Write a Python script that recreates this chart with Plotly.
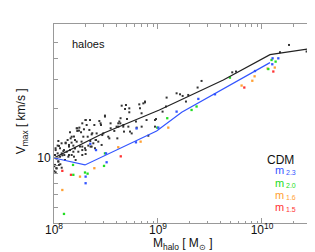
import numpy as np
import plotly.graph_objects as go

# ---- data (log10 units) ----
cdm_logM = [10.26, 10.173, 10.429, 9.75, 9.714, 9.419, 9.381,
            9.083, 9.179, 9.212, 9.237, 9.291, 9.269, 9.044, 8.981, 9.077,
            8.692, 8.724, 8.820, 8.875, 8.724, 8.842, 8.640, 8.628, 8.618, 8.544,
            8.602, 8.666, 8.673, 8.731, 8.532, 8.609, 8.788, 8.890, 8.971, 8.490,
            8.304, 8.448, 8.224, 8.240, 8.288, 8.192, 8.160, 8.368, 8.464, 8.112,
            8.169, 8.073, 8.265, 8.400, 8.048, 8.015, 8.096, 8.144, 8.202, 8.272,
            8.304, 8.352,
            8.005, 8.022, 8.041, 8.003, 8.080, 8.144, 8.192, 8.208, 8.272, 8.304,
            8.022, 8.061, 8.003,
            8.042, 8.035, 8.058, 8.016, 8.090, 8.131, 8.154, 8.170, 8.202, 8.218,
            8.224, 8.244, 8.260, 8.282, 8.304, 8.314, 8.340, 8.349, 8.362, 8.378,
            8.404, 8.436, 8.452, 8.474, 8.490, 8.522, 8.545, 8.580, 8.619, 8.638,
            8.651, 8.667, 8.683, 8.702, 8.715, 8.747, 8.795, 8.827, 8.843, 8.859,
            8.875, 8.907, 8.971,
            8.010, 8.026, 8.042, 8.010, 8.026, 8.016, 8.058, 8.074, 8.099, 8.122,
            8.138, 8.154, 8.170, 8.186, 8.202, 8.048, 8.074, 8.035, 8.106, 8.234,
            8.250, 8.272, 8.298, 8.330, 8.362, 8.394, 8.426, 8.458, 8.410, 8.324,
            8.272, 8.346, 8.388, 8.218, 8.186, 8.144, 8.112]
cdm_logV = [1.685, 1.641, 1.645, 1.524, 1.519, 1.467, 1.427,
            1.366, 1.392, 1.386, 1.376, 1.382, 1.342, 1.281, 1.236, 1.312,
            1.321, 1.301, 1.325, 1.342, 1.277, 1.271, 1.241, 1.221, 1.210, 1.210,
            1.190, 1.190, 1.160, 1.160, 1.119, 1.119, 1.221, 1.230, 1.230, 1.251,
            1.230, 1.210, 1.180, 1.166, 1.174, 1.130, 1.119, 1.150, 1.139, 1.093,
            1.093, 1.089, 1.099, 1.109, 1.073, 1.059, 1.048, 1.069, 1.059, 1.069,
            1.048, 1.069,
            1.018, 0.998, 0.980, 0.950, 1.016, 1.018, 1.008, 0.988, 1.018, 1.024,
            0.938, 0.962, 0.919,
            1.103, 1.075, 1.059, 1.048, 1.042, 1.109, 1.156, 1.129, 1.109, 1.180,
            1.164, 1.184, 1.156, 1.129, 1.230, 1.200, 1.170, 1.103, 1.143, 1.089,
            1.109, 1.224, 1.200, 1.149, 1.257, 1.129, 1.180, 1.164, 1.190, 1.210,
            1.317, 1.200, 1.297, 1.236, 1.190, 1.149, 1.184, 1.301, 1.190, 1.331,
            1.337, 1.135, 1.190,
            1.018, 0.998, 0.978, 0.958, 0.937, 0.913, 1.008, 1.028, 1.018, 1.038,
            1.008, 1.048, 1.018, 1.038, 1.059, 0.958, 0.941, 1.028, 0.988, 1.038,
            1.069, 1.048, 1.059, 1.075, 1.069, 1.059, 1.099, 1.079, 1.149, 1.129,
            1.210, 1.230, 1.200, 1.099, 1.075, 1.079, 1.089]

m23_logM = [8.304, 8.304, 8.506, 8.500, 8.788, 8.794, 9.179, 9.388, 9.548, 9.933,
            10.102, 10.157, 10.099, 9.003, 8.349, 8.404]
m23_logV = [0.887, 0.847, 0.974, 1.028, 1.095, 1.179, 1.281, 1.358, 1.386, 1.527,
            1.604, 1.604, 1.568, 1.184, 1.086, 1.048]
m20_logM = [8.096, 8.186, 8.298, 8.323, 8.490, 8.481, 8.993, 9.089, 9.323, 9.371,
            9.692, 10.092, 10.131, 10.061, 8.183]
m20_logV = [0.661, 0.898, 0.912, 0.905, 1.028, 0.952, 1.184, 1.241, 1.291, 1.312,
            1.487, 1.594, 1.584, 1.539, 0.958]
m16_logM = [8.080, 8.250, 8.388, 8.618, 8.833, 9.099, 9.804, 9.907, 9.929, 10.054, 10.123]
m16_logV = [0.806, 0.887, 0.938, 1.065, 1.099, 1.184, 1.439, 1.468, 1.495, 1.542, 1.548]
m15_logM = [8.080, 8.163, 8.642, 9.830, 10.109]
m15_logV = [0.922, 0.898, 1.010, 1.427, 1.524]

cdm_line_logM = [8.0, 8.474, 9.013, 9.628, 10.077, 10.445]
cdm_line_logV = [1.0, 1.150, 1.291, 1.473, 1.626, 1.661]
m23_line_logM = [8.0, 8.298, 8.987, 9.228, 10.077]
m23_line_logV = [1.0, 0.958, 1.164, 1.277, 1.578]

x_tickvals = [1e8, 1e9, 1e10]
x_ticktext = ["10<sup>8</sup>", "10<sup>9</sup>", "10<sup>10</sup>"]
y_tickvals = [10]
y_ticktext = ["10"]
y_minorvals = [5, 6, 7, 8, 9, 20, 30, 40, 50]

legend_main = ["CDM", "m", "m", "m", "m"]
legend_sub = ["", "2.3", "2.0", "1.6", "1.5"]

# ---- styles ----
C_BLUE = "#3355ff"
C_GREEN = "#22dd22"
C_ORANGE = "#ffa033"
C_RED = "#ff3333"
C_BLACK = "#222222"
FONT = "Liberation Sans, Arial, sans-serif"
TXT = "#111111"

def p(v):
    return [10 ** a for a in v]

fig = go.Figure()
fig.add_trace(go.Scatter(x=p(cdm_logM), y=p(cdm_logV), mode="markers",
                         marker=dict(symbol="square", size=2, color="#333333", line=dict(width=0))))
for lm, lv, c in [(m15_logM, m15_logV, C_RED), (m16_logM, m16_logV, C_ORANGE),
                  (m20_logM, m20_logV, C_GREEN), (m23_logM, m23_logV, C_BLUE)]:
    fig.add_trace(go.Scatter(x=p(lm), y=p(lv), mode="markers",
                             marker=dict(symbol="square", size=2.3, color=c, line=dict(width=0))))
fig.add_trace(go.Scatter(x=p(cdm_line_logM), y=p(cdm_line_logV), mode="lines",
                         line=dict(color=C_BLACK, width=1.2)))
fig.add_trace(go.Scatter(x=p(m23_line_logM), y=p(m23_line_logV), mode="lines",
                         line=dict(color=C_BLUE, width=1.2)))

x_minor = [k * 10 ** d for d in (8, 9, 10) for k in range(2, 10) if k * 10 ** d < 3.1e10]

axis_common = dict(type="log", ticks="inside", mirror="allticks", showline=True,
                   linecolor="#999999", linewidth=1, tickcolor="#999999", ticklen=5,
                   showgrid=False, zeroline=False,
                   tickfont=dict(family=FONT, size=12, color=TXT))

fig.update_xaxes(**axis_common, range=[8.0, 10.481], tickmode="array",
                 tickvals=x_tickvals, ticktext=x_ticktext, ticklabelstandoff=-4,
                 minor=dict(tickmode="array", tickvals=x_minor, ticks="inside", ticklen=2.5,
                            tickcolor="#999999", showgrid=False))
fig.update_yaxes(**axis_common, range=[0.606, 1.812], tickmode="array",
                 tickvals=y_tickvals, ticktext=y_ticktext,
                 minor=dict(tickmode="array", tickvals=y_minorvals, ticks="inside", ticklen=4,
                            tickcolor="#999999", showgrid=False))

ann = [
    dict(text="haloes", x=0.067, y=0.90, xanchor="left", yanchor="middle",
         font=dict(family=FONT, size=11, color=TXT)),
    dict(text="M<sub>halo</sub> [ M<sub>⊙</sub> ]", x=0.5, y=-0.105, xanchor="center",
         yanchor="middle", font=dict(family=FONT, size=12, color=TXT)),
    dict(text="V<sub>max</sub> [ km/s ]", x=-0.125, y=0.51, xanchor="center",
         yanchor="middle", textangle=-90, font=dict(family=FONT, size=12, color=TXT)),
]
legend_colors = [TXT, C_BLUE, C_GREEN, C_ORANGE, C_RED]
legend_y = [0.316, 0.268, 0.202, 0.139, 0.078]
for t, s, c, yy in zip(legend_main, legend_sub, legend_colors, legend_y):
    if s:
        ann.append(dict(text=t, x=0.895, y=yy, xanchor="right", yanchor="middle",
                        font=dict(family=FONT, size=11, color=c)))
        ann.append(dict(text=s, x=0.895, y=yy - 0.012, xanchor="left", yanchor="middle",
                        font=dict(family=FONT, size=7, color=c)))
    else:
        ann.append(dict(text=t, x=0.934, y=yy, xanchor="right", yanchor="middle",
                        font=dict(family=FONT, size=12, color=c)))
for a in ann:
    a.update(xref="paper", yref="paper", showarrow=False, borderpad=0)

fig.update_layout(width=315, height=252, margin=dict(l=46, r=11, t=16, b=37),
                  plot_bgcolor="white", paper_bgcolor="white", showlegend=False,
                  annotations=ann)

fig.write_html("out.html")
